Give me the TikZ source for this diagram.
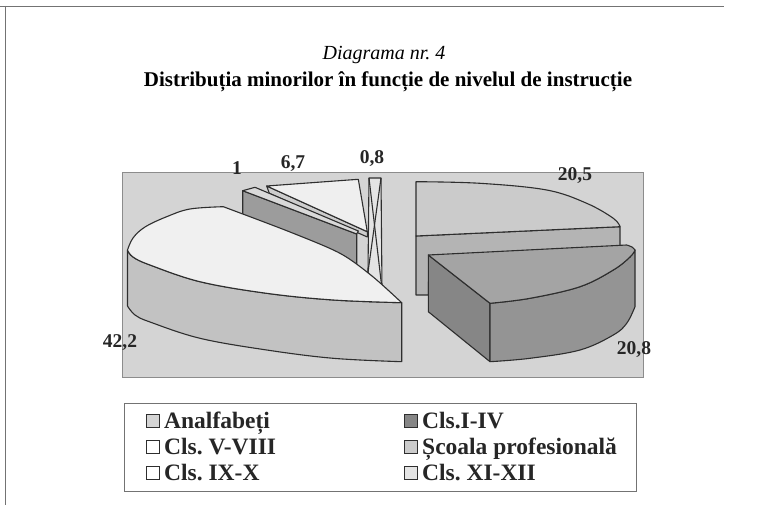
\documentclass[tikz,border=0pt]{standalone}
\usepackage{fontspec}
\setmainfont{Liberation Serif}
\frenchspacing
\definecolor{areagray}{HTML}{D4D4D4}
\definecolor{bigtop}{HTML}{F0F0F0}
\definecolor{bigband}{HTML}{C2C2C2}
\definecolor{onetop}{HTML}{D9D9D9}
\definecolor{oneface}{HTML}{9C9C9C}
\definecolor{sevtop}{HTML}{EFEFEF}
\definecolor{sevstrip}{HTML}{CDCDCD}
\definecolor{sliver}{HTML}{E4E4E4}
\definecolor{prtop}{HTML}{CBCBCB}
\definecolor{prband}{HTML}{B4B4B4}
\definecolor{prim}{HTML}{A4A4A4}
\definecolor{primleft}{HTML}{868686}
\definecolor{primfront}{HTML}{949494}
\definecolor{inkgray}{HTML}{2E2E2E}
\tikzset{
  slice/.style={draw=inkgray, line width=1.1pt, line join=round},
  frameline/.style={draw=black!55, line width=0.8pt},
  plotarea/.style={fill=areagray, draw=black!45, line width=0.6pt},
  lbl/.style={font=\fontsize{19.5}{21}\selectfont\bfseries, inner sep=0pt, text=black!85},
  legbox/.style={draw=black!55, line width=0.7pt},
  legsq/.style={draw=inkgray, line width=1pt, minimum size=12.5pt, inner sep=0pt},
  legtxt/.style={font=\fontsize{23.5}{25}\selectfont\bfseries, inner sep=0pt, anchor=base west, text=black!85}
}
\begin{document}
\begin{tikzpicture}[x=1pt,y=-1pt]
\useasboundingbox (0,0) rectangle (769,505);
\fill[white] (0,0) rectangle (769,505);
% outer frame (top and left)
\draw[frameline] (0,6) -- (724,6);
\draw[frameline] (5,6) -- (5,505);
% titles
\node[font=\fontsize{20}{22}\selectfont\itshape, inner sep=0pt, anchor=base] (title) at (384,60) {Diagrama nr. 4};
\node[font=\fontsize{21}{23}\selectfont\bfseries, inner sep=0pt, anchor=base] (subtitle) at (388,87) {Distribuția minorilor în funcție de nivelul de instrucție};
% plot area
\draw[plotarea] (122,172) rectangle (643,377);
% slice 0,8 (sliver)
\filldraw[slice, fill=sliver] (369,178) -- (381,178) -- (382,289) -- (377,290) -- (368,272) -- cycle;
\draw[slice] (369,178) -- (382,289);
\draw[slice] (381,178) -- (368,272);
% slice 6,7
\filldraw[slice, fill=sevstrip] (266.7,186) -- (367.3,231.7) -- (367.3,237) -- (269.3,193.3) -- cycle;
\filldraw[slice, fill=sevtop] (266.7,186) -- (358.3,179.3) -- (367.3,231.7) -- cycle;
% slice 1
\filldraw[slice, fill=oneface] (242.7,190.7) -- (356.7,234) -- (356.7,267) -- (242.7,225) -- cycle;
\filldraw[slice, fill=onetop] (242.7,190.7) -- (255,187.3) -- (358.3,231) -- (356.7,234) -- cycle;
% slice 42,2 : side band
\filldraw[slice, fill=bigband]
  (127.5,250) -- (127.5,306)
  -- plot[smooth, tension=0.6] coordinates {(127.5,306) (135,315) (150,322) (200,338.3) (266.7,350) (333.3,358.3) (401.7,361.7)}
  -- (401.7,302.7)
  -- plot[smooth, tension=0.6] coordinates {(401.7,302.7) (333.3,300) (266.7,293.3) (200,281.7) (150,265) (133,257) (127.5,250)}
  -- cycle;
% slice 42,2 : top face
\filldraw[slice, fill=bigtop]
  plot[smooth, tension=0.5] coordinates {(401.7,302.7) (372,276) (340,253.3) (290,232) (223.3,206.7)}
  -- plot[smooth, tension=0.6] coordinates {(223.3,206.7) (190,209) (166.7,216.7) (145,227) (133,238) (127.5,250)}
  -- plot[smooth, tension=0.6] coordinates {(127.5,250) (133,257) (150,265) (200,281.7) (266.7,293.3) (333.3,300) (401.7,302.7)}
  -- cycle;
% slice 20,5 : band
\filldraw[slice, fill=prband] (416,236) -- (620,226.7) -- (620,262) -- (428.3,282) -- (428.3,295) -- (416,295) -- cycle;
% slice 20,5 : top
\filldraw[slice, fill=prtop]
  (416,236) -- (416,181.7)
  -- plot[smooth, tension=0.6] coordinates {(416,181.7) (480,183.3) (546.7,190) (586.7,203.3) (613.3,218.3) (620,226.7)}
  -- cycle;
% slice 20,8 : left face
\filldraw[slice, fill=primleft] (428.3,255) -- (490,303.3) -- (490,361.7) -- (428.3,311.7) -- cycle;
% slice 20,8 : front face
\filldraw[slice, fill=primfront]
  plot[smooth, tension=0.6] coordinates {(490,303.3) (530,298.3) (580,286.7) (613.3,270) (630,257) (635,250)}
  -- (635,306.7)
  -- plot[smooth, tension=0.6] coordinates {(635,306.7) (626.7,323.3) (613.3,335) (580,350) (530,358.3) (490,361.7)}
  -- cycle;
% slice 20,8 : top face
\filldraw[slice, fill=prim]
  (428.3,255) -- (626.7,245)
  -- plot[smooth, tension=0.6] coordinates {(626.7,245) (632,247) (635,250)}
  -- plot[smooth, tension=0.6] coordinates {(635,250) (630,257) (613.3,270) (580,286.7) (530,298.3) (490,303.3)}
  -- cycle;
% data labels
\node[lbl] (v1)  at (237,168) {1};
\node[lbl] (v67) at (293,164) {6,7};
\node[lbl] (v08) at (372,159) {0,8};
\node[lbl] (v422) at (120,343) {42,2};
\node[lbl] (v205) at (575,176) {20,5};
\node[lbl] (v208) at (634,350) {20,8};
% legend
\draw[legbox] (124,403) rectangle (636,491);
\node[legsq, fill=areagray] (k1) at (153,421) {};
\node[legtxt] (t1) at (164,428.5) {Analfabeți};
\node[legsq, fill=white] (k2) at (153,447) {};
\node[legtxt] (t2) at (164,454.5) {Cls. V-VIII};
\node[legsq, fill=white] (k3) at (153,473) {};
\node[legtxt] (t3) at (164,480.5) {Cls. IX-X};
\node[legsq, fill=primleft] (k4) at (411,421) {};
\node[legtxt] (t4) at (422,428.5) {Cls.I-IV};
\node[legsq, fill=prtop] (k5) at (411,447) {};
\node[legtxt] (t5) at (422,454.5) {Școala profesională};
\node[legsq, fill=sliver] (k6) at (411,473) {};
\node[legtxt] (t6) at (422,480.5) {Cls. XI-XII};
\end{tikzpicture}
\end{document}
